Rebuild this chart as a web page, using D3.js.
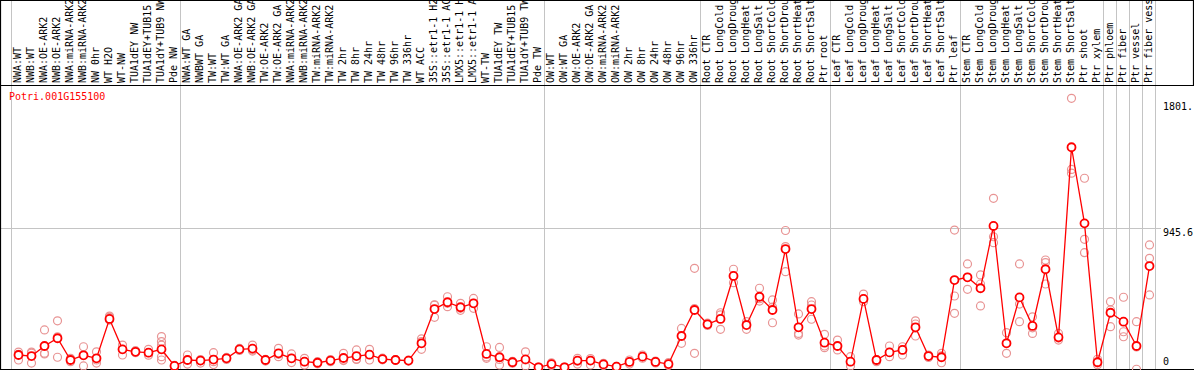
<!DOCTYPE html>
<html>
<head>
<meta charset="utf-8">
<script src="https://cdn.jsdelivr.net/npm/d3@7"></script>
<style>
  body { margin: 0; background: #fff; }
  text { font-family: 'DejaVu Sans Mono', monospace; font-size: 10px; }
</style>
</head>
<body>
<svg id="chart"></svg>
<script>
const geneId = 'Potri.001G155100';

const labels = [
  'NWA:WT','NWB:WT','NWA:OE-ARK2','NWB:OE-ARK2','NWA:miRNA-ARK2','NWB:miRNA-ARK2','NW 0hr','WT H2O','WT-NW',
  'TUA1dEY NW','TUA1dEY+TUB15 NW','TUA1dY+TUB9 NW','Pde NW',
  'NWA:WT GA','NWBWT GA','TW:WT','TW:WT GA','NWA:OE-ARK2 GA','NWB:OE-ARK2 GA','TW:OE-ARK2','TW:OE-ARK2 GA',
  'NWA:miRNA-ARK2','NWB:miRNA-ARK2','TW:miRNA-ARK2','TW:miRNA-ARK2','TW 2hr','TW 8hr','TW 24hr','TW 48hr',
  'TW 96hr','TW 336hr','WT ACC','35S::etr1-1 H2O','35S::etr1-1 ACC','LMX5::etr1-1 H2O','LMX5::etr1-1 ACC',
  'WT-TW','TUA1dEY TW','TUA1dEY+TUB15 TW','TUA1dY+TUB9 TW','Pde TW',
  'OW:WT','OW:WT GA','OW:OE-ARK2','OW:OE-ARK2 GA','OW:miRNA-ARK2','OW:miRNA-ARK2','OW 2hr','OW 8hr','OW 24hr',
  'OW 48hr','OW 96hr','OW 336hr',
  'Root CTR','Root LongCold','Root LongDrought','Root LongHeat','Root LongSalt','Root ShortCold',
  'Root ShortDrought','Root ShortHeat','Root ShortSalt','Ptr root',
  'Leaf CTR','Leaf LongCold','Leaf LongDrought','Leaf LongHeat','Leaf LongSalt','Leaf ShortCold',
  'Leaf ShortDrought','Leaf ShortHeat','Leaf ShortSalt','Ptr leaf',
  'Stem CTR','Stem LongCold','Stem LongDrought','Stem LongHeat','Stem LongSalt','Stem ShortCold',
  'Stem ShortDrought','Stem ShortHeat','Stem ShortSalt','Ptr shoot','Ptr xylem',
  'Ptr phloem','Ptr fiber','Ptr vessel','Ptr fiber vessel'
];

// number of columns between the grey separators
const groupSizes = [13, 28, 12, 10, 10, 11, 1, 1, 1, 1];

const means = [
  112, 105, 171, 222, 79, 110, 90, 349, 149, 133, 127, 149, 40,
  79, 75, 82, 90, 149, 154, 79, 123, 90, 68, 61, 75, 92, 105, 114, 85, 79, 75, 189,
  414, 459, 426, 452, 119, 97, 64, 83, 31,
  52, 31, 75, 75, 50, 35, 66, 101, 66, 52, 237, 408,
  314, 349, 632, 309, 495, 408, 809, 294, 414, 193,
  171, 68, 481, 79, 129, 145, 294, 105, 97, 605,
  623, 551, 961, 189, 491, 303, 676, 228, 1479, 978, 64,
  390, 331, 171, 697
];

const replicates = [
  [131,116,79],[131,124,59],[277,124,119],[337,232,97],[90,79,68],[166,110,40],[133,79,59],
  [368,360,342],[177,149,112],[140,133,127],[149,127,111],[233,200,177,101,79],[43,38,35],
  [112,79,52],[82,75,59],[127,68,49],[96,90,83],[155,149,142],[177,145,138],[83,79,72],
  [156,116,101],[119,90,62],[90,68,46],[68,61,54],[82,75,68],[123,79,75],[145,85,83],
  [149,114,79],[91,85,80],[82,79,76],[78,75,72],[218,200,149],[442,440,360],[495,452,430],
  [452,419,406],[484,452,419],[166,99,90],[162,83,46],[70,64,58],[133,79,40],[33,31,28],
  [61,52,43],[33,31,28],[90,71,52],[88,75,46],[57,50,43],[38,35,32],[79,66,52],[112,101,91],
  [72,66,60],[62,52,43],[287,237,189],[682,418,123],
  [321,314,306],[390,376,281],[676,632,588],[331,314,281],[551,482,467],[474,427,324],
  [931,825,660],[382,254,243],[463,441,347],[248,171,160],
  [210,171,145],[101,68,40],[513,481,463],[82,75,68],[171,129,101],[166,145,112],
  [337,316,237],[112,105,96],[123,107,61],[934,500,386],
  [711,623,544],[639,579,435],[1143,890,851],[259,189,123],[711,447,331],[363,291,254],
  [737,720,579],[254,223,210],[1801.1,1333,1308],[1275,873,785],[84,60,48],
  [463,408,298],[492,265,232],[331,165,18],[836,748,507]
];

const yTickValues = [1801.1, 945.6, 0];
const yTickLabels = ['1801.', '945.6', '0'];

class ExpressionPlot {
  constructor(_config) {
    this.config = {
      parentElement: _config.parentElement,
      containerWidth: 1194,
      containerHeight: 370,
      colWidth: 13,
      plotLeft: 11,
      headerBottom: 85,
      zeroY: 372,
      topY: 84.6
    };
    this.initVis();
  }

  initVis() {
    const vis = this;
    const c = vis.config;

    vis.svg = d3.select(c.parentElement)
      .attr('width', c.containerWidth)
      .attr('height', c.containerHeight);

    vis.xScale = d3.scaleBand()
      .domain(d3.range(labels.length))
      .range([c.plotLeft, c.plotLeft + c.colWidth * labels.length]);

    vis.yScale = d3.scaleLinear()
      .domain([0, d3.max(replicates.flat()) * 1.05])
      .range([c.zeroY, c.topY]);

    // points sit a little right of the column centre
    vis.cx = i => vis.xScale(i) + vis.xScale.bandwidth() / 2 + 1;
  }

  renderVis() {
    const vis = this;
    const c = vis.config;
    const W = c.containerWidth;
    const H = c.containerHeight;
    const plotRight = vis.xScale.range()[1];

    // grey group separators (full height)
    const bounds = [0, ...Array.from(d3.cumsum(groupSizes))];
    const sepX = d => (d < labels.length ? vis.xScale(d) : plotRight) + 0.5;
    vis.svg.selectAll('.sep')
      .data(bounds)
      .join('line')
      .attr('class', 'sep')
      .attr('x1', sepX)
      .attr('x2', sepX)
      .attr('y1', 0)
      .attr('y2', H)
      .attr('stroke', '#c4c4c4');

    // mid grid line
    const mid = Math.round(vis.yScale(yTickValues[1])) + 0.5;
    vis.svg.append('line')
      .attr('x1', 0).attr('x2', 1161)
      .attr('y1', mid).attr('y2', mid)
      .attr('stroke', '#c4c4c4');

    // frame
    const frame = vis.svg.append('g').attr('stroke', '#000').attr('stroke-width', 1.2);
    frame.append('line').attr('x1', 0).attr('x2', W).attr('y1', 0.5).attr('y2', 0.5);
    frame.append('line').attr('x1', 0).attr('x2', W).attr('y1', c.headerBottom + 0.5).attr('y2', c.headerBottom + 0.5);
    frame.append('line').attr('x1', 0).attr('x2', W).attr('y1', H - 0.5).attr('y2', H - 0.5);
    frame.append('line').attr('x1', 0.5).attr('x2', 0.5).attr('y1', 0).attr('y2', H);
    frame.append('line').attr('x1', W - 0.5).attr('x2', W - 0.5).attr('y1', 0).attr('y2', c.headerBottom);

    // column labels (clipped at the top edge, as in the original)
    vis.svg.selectAll('.col-label')
      .data(labels)
      .join('text')
      .attr('class', 'col-label')
      .attr('transform', (d, i) => `translate(${vis.cx(i) + 2.5},${c.headerBottom - 2}) rotate(-90)`)
      .attr('fill', '#000')
      .text(d => d);

    // gene id
    vis.svg.append('text')
      .attr('x', 9)
      .attr('y', 100)
      .attr('fill', '#f00')
      .text(geneId);

    // right value labels
    const dy = [12, 7.5, -7];
    vis.svg.selectAll('.y-label')
      .data(yTickValues)
      .join('text')
      .attr('class', 'y-label')
      .attr('x', 1163)
      .attr('y', (d, i) => vis.yScale(d) + dy[i])
      .attr('fill', '#000')
      .text((d, i) => yTickLabels[i]);

    // replicate points
    const reps = replicates.flatMap((arr, i) => arr.map(v => ({i, v})));
    vis.svg.selectAll('.rep')
      .data(reps)
      .join('circle')
      .attr('class', 'rep')
      .attr('cx', d => vis.cx(d.i))
      .attr('cy', d => vis.yScale(d.v))
      .attr('r', 4)
      .attr('fill', 'none')
      .attr('stroke', '#e89494')
      .attr('stroke-width', 1.2);

    // mean line
    const line = d3.line()
      .x((d, i) => vis.cx(i))
      .y(d => vis.yScale(d));

    vis.svg.append('path')
      .datum(means)
      .attr('d', line)
      .attr('fill', 'none')
      .attr('stroke', '#f00')
      .attr('stroke-width', 1.3);

    vis.svg.selectAll('.mean')
      .data(means)
      .join('circle')
      .attr('class', 'mean')
      .attr('cx', (d, i) => vis.cx(i))
      .attr('cy', d => vis.yScale(d))
      .attr('r', 4)
      .attr('fill', '#fff')
      .attr('stroke', '#f00')
      .attr('stroke-width', 1.8);
  }
}

const plot = new ExpressionPlot({ parentElement: '#chart' });
plot.renderVis();
</script>
</body>
</html>
